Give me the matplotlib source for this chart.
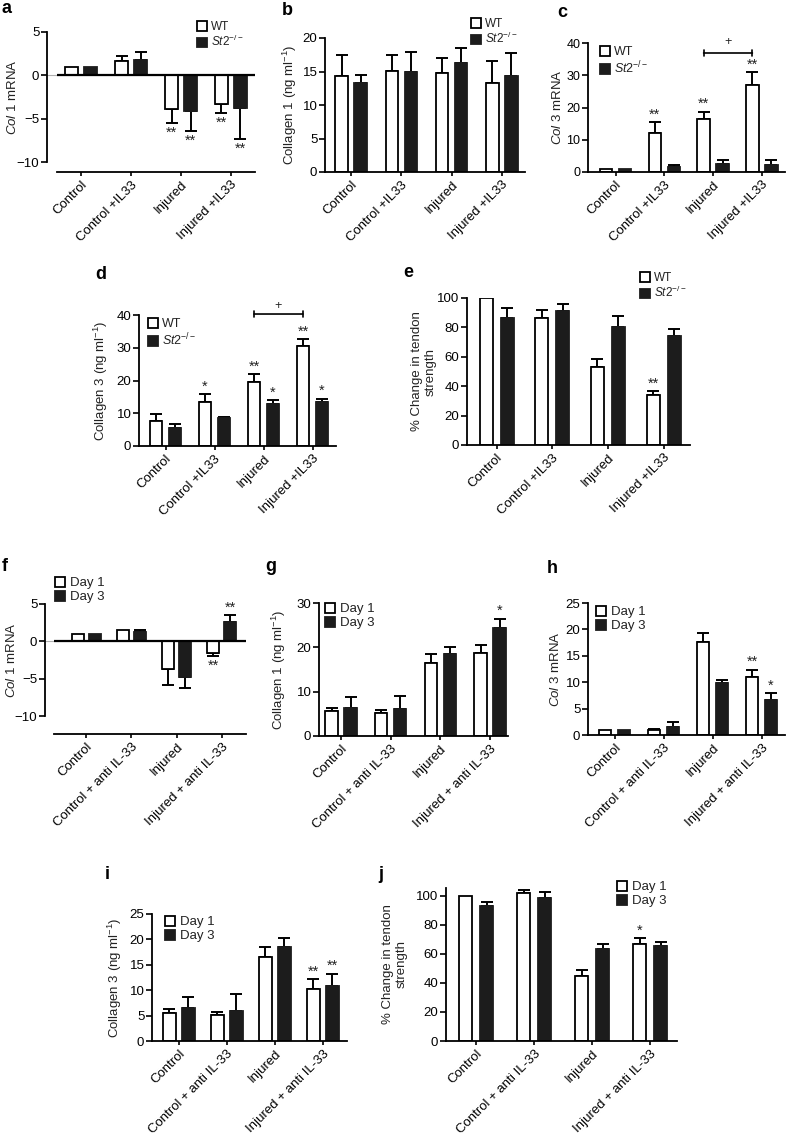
import numpy as np
import matplotlib
matplotlib.use('Agg')
import matplotlib.pyplot as plt

plt.rcParams['font.family'] = ['Liberation Sans', 'DejaVu Sans']
plt.rcParams['mathtext.fontset'] = 'custom'
plt.rcParams['mathtext.rm'] = 'Liberation Sans'
plt.rcParams['mathtext.it'] = 'Liberation Sans:italic'
plt.rcParams['text.color'] = '#222222'
plt.rcParams['axes.labelcolor'] = '#222222'

# categories and legend labels
cats_il33 = ['Control', 'Control +IL33', 'Injured', 'Injured +IL33']
cats_anti = ['Control', 'Control + anti IL-33', 'Injured', 'Injured + anti IL-33']
geno_labels = ['WT', r'$\mathit{St2}^{-/-}$']
day_labels = ['Day 1', 'Day 3']

# a: Col 1 mRNA
a_wt = [1.0, 1.6, -3.9, -3.25]
a_wt_err = [0, 0.6, 1.6, 1.05]
a_ko = [1.0, 1.8, -4.1, -3.8]
a_ko_err = [0, 0.85, 2.3, 3.6]
a_wt_sig = ['', '', '**', '**']
a_ko_sig = ['', '', '**', '**']

# b: Collagen 1 protein
b_wt = [14.3, 15.1, 14.8, 13.3]
b_wt_err = [3.2, 2.3, 2.2, 3.3]
b_ko = [13.3, 15.0, 16.3, 14.3]
b_ko_err = [1.2, 2.9, 2.2, 3.5]

# c: Col 3 mRNA
c_wt = [1.0, 12.2, 16.5, 26.9]
c_wt_err = [0, 3.3, 2.2, 4.1]
c_ko = [1.0, 1.4, 2.6, 2.1]
c_ko_err = [0, 0.9, 1.2, 1.5]
c_wt_sig = ['', '**', '**', '**']

# d: Collagen 3 protein
d_wt = [7.5, 13.4, 19.6, 30.6]
d_wt_err = [2.4, 2.4, 2.3, 2.0]
d_ko = [5.6, 8.4, 12.7, 13.5]
d_ko_err = [1.0, 0.5, 1.3, 1.0]
d_wt_sig = ['', '*', '**', '**']
d_ko_sig = ['', '', '*', '*']

# e: tendon strength
e_wt = [100, 86.4, 53.4, 33.7]
e_wt_err = [0, 5.7, 5.0, 2.7]
e_ko = [86.2, 91.2, 80.1, 74.2]
e_ko_err = [6.8, 5.0, 7.9, 4.8]
e_wt_sig = ['', '', '', '**']

# f: Col 1 mRNA, anti IL-33
f_d1 = [1.0, 1.55, -3.65, -1.55]
f_d1_err = [0, 0, 2.25, 0.45]
f_d3 = [1.0, 1.3, -4.8, 2.65]
f_d3_err = [0, 0.2, 1.5, 0.85]
f_d1_sig = ['', '', '', '**']
f_d3_sig = ['', '', '', '**']

# g: Collagen 1 protein, anti IL-33
g_d1 = [5.7, 5.1, 16.4, 18.8]
g_d1_err = [0.7, 0.7, 2.0, 1.8]
g_d3 = [6.4, 6.0, 18.4, 24.3]
g_d3_err = [2.4, 3.1, 1.6, 2.2]
g_d3_sig = ['', '', '', '*']

# h: Col 3 mRNA, anti IL-33
h_d1 = [1.0, 0.9, 17.7, 10.9]
h_d1_err = [0, 0.2, 1.6, 1.5]
h_d3 = [1.0, 1.6, 9.8, 6.7]
h_d3_err = [0, 0.9, 0.6, 1.2]
h_d1_sig = ['', '', '', '**']
h_d3_sig = ['', '', '', '*']

# i: Collagen 3 protein, anti IL-33
i_d1 = [5.6, 5.1, 16.5, 10.3]
i_d1_err = [0.7, 0.6, 2.0, 1.9]
i_d3 = [6.4, 6.0, 18.5, 10.9]
i_d3_err = [2.3, 3.2, 1.7, 2.3]
i_d1_sig = ['', '', '', '**']
i_d3_sig = ['', '', '', '**']

# j: tendon strength, anti IL-33
j_d1 = [100, 102.3, 44.7, 66.8]
j_d1_err = [0, 1.8, 4.6, 3.9]
j_d3 = [93.1, 98.8, 63.4, 65.4]
j_d3_err = [2.8, 4.0, 3.2, 2.8]
j_d1_sig = ['', '', '', '*']

W, H = 788, 1135
fig = plt.figure(figsize=(W / 100, H / 100), dpi=100)
DARK = '#1c1c1c'
TICK_FS = 9.5


def add_box(left, top, right, bottom):
    return fig.add_axes([left / W, 1 - bottom / H, (right - left) / W, (bottom - top) / H])


def err_bars(ax, x, v, e):
    v = np.asarray(v, float)
    e = np.asarray(e, float)
    m = e > 0
    lower = np.where(v < 0, e, 0)[m]
    upper = np.where(v >= 0, e, 0)[m]
    ax.errorbar(x[m], v[m], yerr=[lower, upper], fmt='none', ecolor='black',
                elinewidth=1.4, capsize=4, capthick=1.4, zorder=1)


def stars(ax, x, v, e, sig):
    for xi, vi, ei, s in zip(x, v, e, sig):
        if not s:
            continue
        if vi >= 0:
            ax.annotate(s, (xi, vi + ei), xytext=(0, 0.5), textcoords='offset points',
                        ha='center', va='bottom', fontsize=10.5, annotation_clip=False)
        else:
            ax.annotate(s, (xi, vi - ei), xytext=(0, -2), textcoords='offset points',
                        ha='center', va='top', fontsize=10.5, annotation_clip=False)


def panel(box, cats, v1, e1, v2, e2, ylim, yticks, ylabel, lab_x, g0, step,
          sig1=None, sig2=None, off_px=9.5, w_px=12.5, neg=False, ybounds=None,
          ytick_fs=TICK_FS):
    ax = add_box(*box)
    x = np.arange(len(cats), dtype=float)
    off = off_px / step
    w = w_px / step
    xlim = ((box[0] - g0) / step, (box[2] - g0) / step)
    b1 = ax.bar(x - off, v1, w, color='white', edgecolor='black', linewidth=1.3, zorder=2)
    b2 = ax.bar(x + off, v2, w, color=DARK, edgecolor=DARK, linewidth=1.3, zorder=2)
    err_bars(ax, x - off, v1, e1)
    err_bars(ax, x + off, v2, e2)
    if sig1:
        stars(ax, x - off, v1, e1, sig1)
    if sig2:
        stars(ax, x + off, v2, e2, sig2)
    ax.set_xlim(*xlim)
    ax.set_ylim(*ylim)
    ax.set_xticks(x)
    ax.set_xticklabels(cats, rotation=45, ha='right', rotation_mode='anchor', fontsize=TICK_FS)
    ax.set_yticks(yticks)
    ax.set_yticklabels([str(t).replace('-', '\u2212') for t in yticks], fontsize=ytick_fs)
    ax.set_ylabel(ylabel, fontsize=TICK_FS)
    for s in ['top', 'right']:
        ax.spines[s].set_visible(False)
    for s in ['left', 'bottom']:
        ax.spines[s].set_linewidth(1.3)
    ax.tick_params(axis='x', length=3, width=1.2, pad=2)
    ax.tick_params(axis='y', length=4, width=1.2, pad=1.5)
    yb = ybounds if ybounds else ylim
    if ybounds:
        ax.spines['left'].set_bounds(*ybounds)
    if neg:
        x0 = xlim[0] + 0.2
        ax.spines['bottom'].set_bounds(x0, xlim[1])
        ax.axhline(0, color='#b0b0b0', lw=0.8, zorder=0)
        ax.hlines(0, x0, xlim[1], color='black', lw=1.6, zorder=3)
    yc = ((yb[0] + yb[1]) / 2 - ylim[0]) / (ylim[1] - ylim[0])
    ax.yaxis.set_label_coords((lab_x - box[0]) / (box[2] - box[0]), yc)
    return ax, b1, b2


def legend(ax, handles, labels, left, top, fs, hl, ls):
    ax.legend(handles, labels, loc='upper left', bbox_to_anchor=(left / W, 1 - top / H),
              bbox_transform=fig.transFigure, frameon=False, fontsize=fs,
              handlelength=hl, handleheight=hl, handletextpad=0.35, labelspacing=ls,
              borderpad=0, borderaxespad=0)


def bracket(ax, x1, x2, y, ytxt):
    ax.annotate('', xy=(x1, y), xytext=(x2, y), annotation_clip=False,
                arrowprops=dict(arrowstyle='|-|, widthA=0.25, widthB=0.25', lw=1.2,
                                shrinkA=0, shrinkB=0, color='black'))
    ax.text((x1 + x2) / 2, ytxt, '+', ha='center', va='center', fontsize=9, clip_on=False)


col1 = r'$\mathit{Col\ 1}$ mRNA'
col3 = r'$\mathit{Col\ 3}$ mRNA'
coll1 = r'Collagen 1 (ng ml$^{\mathrm{-1}}$)'
coll3 = r'Collagen 3 (ng ml$^{\mathrm{-1}}$)'
tend = '% Change in tendon\nstrength'

# row 1
ax, h1, h2 = panel((47, 32, 255, 172), cats_il33, a_wt, a_wt_err, a_ko, a_ko_err,
                   (-11.15, 5), [-10, -5, 0, 5], col1, 19, 81, 50, a_wt_sig, a_ko_sig,
                   neg=True, ybounds=(-10, 5))
legend(ax, [h1, h2], geno_labels, 197, 21, 8.5, 0.85, 0.1)

ax, h1, h2 = panel((325, 38, 525, 172), cats_il33, b_wt, b_wt_err, b_ko, b_ko_err,
                   (0, 20), [0, 5, 10, 15, 20], coll1, 299, 351, 50.3)
legend(ax, [h1, h2], geno_labels, 471, 18, 8.5, 0.85, 0.1)

ax, h1, h2 = panel((588, 43, 785, 172), cats_il33, c_wt, c_wt_err, c_ko, c_ko_err,
                   (0, 40), [0, 10, 20, 30, 40], col3, 564, 615.5, 48.8, c_wt_sig,
                   ytick_fs=9)
legend(ax, [h1, h2], geno_labels, 600, 46, 9, 0.8, 0.15)
bracket(ax, 2 - 9.5 / 48.8, 3 - 9.5 / 48.8, 36.9, 40.4)

# row 2
ax, h1, h2 = panel((139, 315, 336, 446), cats_il33, d_wt, d_wt_err, d_ko, d_ko_err,
                   (0, 40), [0, 10, 20, 30, 40], coll3, 110, 165.5, 49, d_wt_sig, d_ko_sig)
legend(ax, [h1, h2], geno_labels, 148, 318, 9, 0.8, 0.15)
bracket(ax, 2 - 9.5 / 49, 3 - 9.5 / 49, 40.3, 42.6)

ax, h1, h2 = panel((467, 298, 690, 445), cats_il33, e_wt, e_wt_err, e_ko, e_ko_err,
                   (0, 100), [0, 20, 40, 60, 80, 100], tend, 437, 496.5, 55.7, e_wt_sig,
                   off_px=10.5, w_px=13)
legend(ax, [h1, h2], geno_labels, 640, 272, 8.5, 0.85, 0.1)

# row 3
ax, h1, h2 = panel((45, 604, 246, 734), cats_anti, f_d1, f_d1_err, f_d3, f_d3_err,
                   (-12.4, 5), [-10, -5, 0, 5], col1, 18, 86, 45.3, f_d1_sig, f_d3_sig,
                   neg=True, ybounds=(-10, 5), off_px=8.5, w_px=12)
legend(ax, [h1, h2], day_labels, 55, 577, 9.5, 0.75, 0.12)

ax, h1, h2 = panel((319, 603, 508, 736), cats_anti, g_d1, g_d1_err, g_d3, g_d3_err,
                   (0, 30), [0, 10, 20, 30], coll1, 288, 341, 49.7, None, g_d3_sig)
legend(ax, [h1, h2], day_labels, 325, 603, 9.5, 0.75, 0.12)

ax, h1, h2 = panel((588, 603, 785, 735), cats_anti, h_d1, h_d1_err, h_d3, h_d3_err,
                   (0, 25), [0, 5, 10, 15, 20, 25], col3, 562, 614.6, 49, h_d1_sig, h_d3_sig)
legend(ax, [h1, h2], day_labels, 596, 606, 9.5, 0.75, 0.12)

# row 4
ax, h1, h2 = panel((152, 914, 347, 1041), cats_anti, i_d1, i_d1_err, i_d3, i_d3_err,
                   (0, 25), [0, 5, 10, 15, 20, 25], coll3, 124, 178.8, 48, i_d1_sig, i_d3_sig)
legend(ax, [h1, h2], day_labels, 165, 916, 9.5, 0.75, 0.12)

ax, h1, h2 = panel((446, 888, 677, 1041), cats_anti, j_d1, j_d1_err, j_d3, j_d3_err,
                   (0, 105.5), [0, 20, 40, 60, 80, 100], tend, 408, 476, 58, j_d1_sig,
                   off_px=10.5, w_px=13)
legend(ax, [h1, h2], day_labels, 617, 881, 9.5, 0.75, 0.12)

# panel letters
for letter, (px, py) in zip('abcdefghij',
                            [(2, 0), (282, 2), (557, 4), (95, 266), (403, 264),
                             (2, 558), (265, 558), (547, 560), (105, 866), (378, 866)]):
    fig.text(px / W, 1 - py / H, letter, fontsize=13, fontweight='bold', va='top', ha='left',
             color='black')

fig.savefig('out.png', dpi=100)
